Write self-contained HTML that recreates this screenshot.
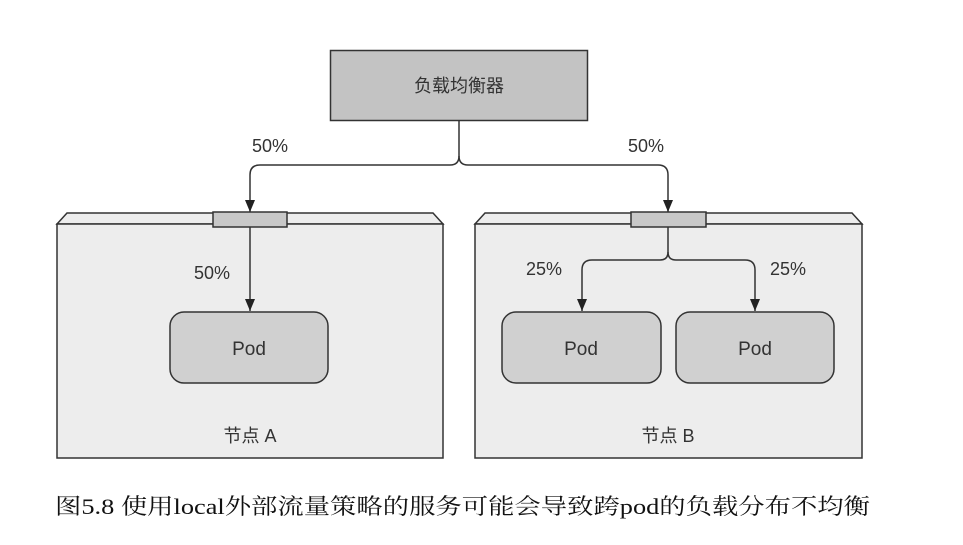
<!DOCTYPE html>
<html><head><meta charset="utf-8"><style>
html,body{margin:0;padding:0;background:#fff;}
svg{display:block;}
</style></head><body>
<svg width="963" height="545" viewBox="0 0 963 545" xmlns="http://www.w3.org/2000/svg">
<defs>
<marker id="ar" markerWidth="12" markerHeight="10" refX="12" refY="5" orient="auto" markerUnits="userSpaceOnUse">
<path d="M0,0 L12,5 L0,10 Z" fill="#222"/>
</marker>
</defs>
<g font-family="Liberation Sans, Noto Sans CJK SC, sans-serif" fill="#333">
<rect x="330.5" y="50.5" width="257" height="70" fill="#c3c3c3" stroke="#333" stroke-width="1.5"/>
<text x="459" y="92" font-size="18" text-anchor="middle" font-family="Noto Sans CJK SC, sans-serif">负载均衡器</text>
<path d="M459,120 V156 Q459,165 450,165 H260 Q250,165 250,175 V212" fill="none" stroke="#333" stroke-width="1.5" marker-end="url(#ar)"/>
<path d="M459,156 Q459,165 468,165 H658 Q668,165 668,175 V212" fill="none" stroke="#333" stroke-width="1.5" marker-end="url(#ar)"/>
<text x="270" y="152" font-size="18" text-anchor="middle">50%</text>
<text x="646" y="152" font-size="18" text-anchor="middle">50%</text>
<path d="M57,224 L67,213 H433 L443,224 Z" fill="#ededed" stroke="#333" stroke-width="1.5"/>
<rect x="57" y="224" width="386" height="234" fill="#ededed" stroke="#333" stroke-width="1.5"/>
<rect x="213" y="212" width="74" height="15" fill="#c8c8c8" stroke="#333" stroke-width="1.5"/>
<path d="M250,227 V311" fill="none" stroke="#333" stroke-width="1.5" marker-end="url(#ar)"/>
<text x="212" y="279" font-size="18" text-anchor="middle">50%</text>
<rect x="170" y="312" width="158" height="71" rx="14" fill="#d0d0d0" stroke="#333" stroke-width="1.5"/>
<text x="249" y="355" font-size="19" text-anchor="middle">Pod</text>
<text x="250" y="442" font-size="18" text-anchor="middle">节点 A</text>
<path d="M475,224 L485,213 H852 L862,224 Z" fill="#ededed" stroke="#333" stroke-width="1.5"/>
<rect x="475" y="224" width="387" height="234" fill="#ededed" stroke="#333" stroke-width="1.5"/>
<rect x="631" y="212" width="75" height="15" fill="#c8c8c8" stroke="#333" stroke-width="1.5"/>
<path d="M668,227 V252 Q668,260 660,260 H592 Q582,260 582,270 V311" fill="none" stroke="#333" stroke-width="1.5" marker-end="url(#ar)"/>
<path d="M668,252 Q668,260 676,260 H745 Q755,260 755,270 V311" fill="none" stroke="#333" stroke-width="1.5" marker-end="url(#ar)"/>
<text x="544" y="275" font-size="18" text-anchor="middle">25%</text>
<text x="788" y="275" font-size="18" text-anchor="middle">25%</text>
<rect x="502" y="312" width="159" height="71" rx="14" fill="#d0d0d0" stroke="#333" stroke-width="1.5"/>
<text x="581" y="355" font-size="19" text-anchor="middle">Pod</text>
<rect x="676" y="312" width="158" height="71" rx="14" fill="#d0d0d0" stroke="#333" stroke-width="1.5"/>
<text x="755" y="355" font-size="19" text-anchor="middle">Pod</text>
<text x="668" y="442" font-size="18" text-anchor="middle">节点 B</text>
</g>
<text x="55" y="514" font-size="22" fill="#111" textLength="815" lengthAdjust="spacingAndGlyphs" font-family="Liberation Serif, Noto Serif CJK SC, serif">图5.8 使用local外部流量策略的服务可能会导致跨pod的负载分布不均衡</text>
</svg>
</body></html>
